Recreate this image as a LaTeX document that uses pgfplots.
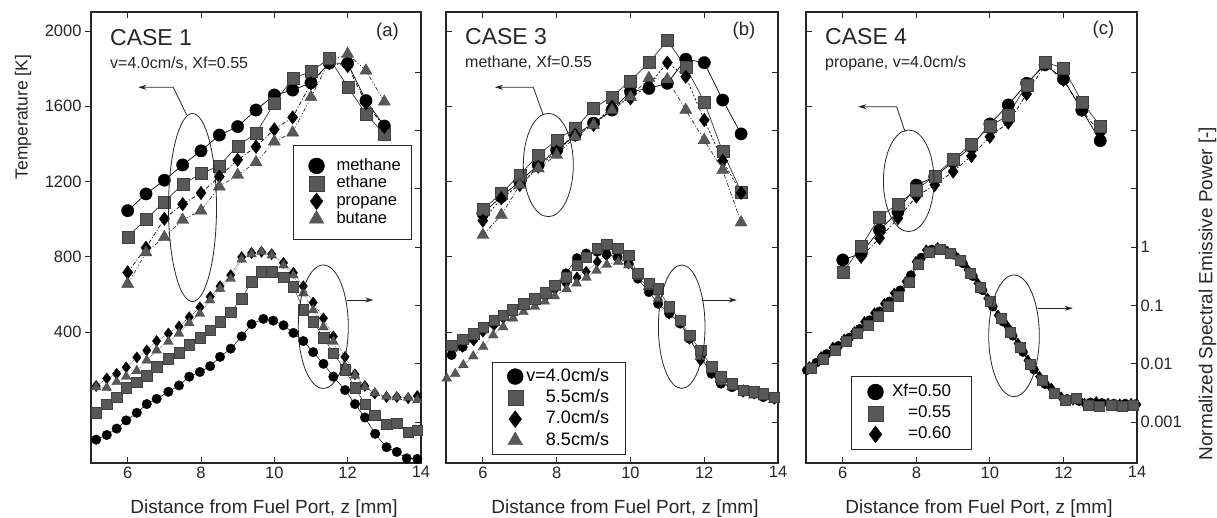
\documentclass[border=0pt]{standalone}
\usepackage{fontspec}
\setmainfont{Liberation Sans}
\usepackage{pgfplots}
\pgfplotsset{compat=1.18}
\usetikzlibrary{arrows.meta}
\definecolor{sqgray}{RGB}{88,88,88}

\pgfplotsset{
  base/.style={scale only axis, height=451pt, anchor=south west, xmin=5, xmax=14,
    axis line style={line width=1.1pt, black!85},
    every tick/.style={line width=0.9pt, black!85},
    major tick length=6pt,
    tick label style={font=\fontsize{16.5}{19}\selectfont, black!85},
    /pgf/number format/assume math mode=true,
    /pgf/number format/1000 sep={}},
  Tax/.style={base, ymin=-296, ymax=2101, xtick={6,8,10,12,14}, ytick={400,800,1200,1600,2000},
    ytick pos=left, xticklabel pos=lower, tick align=inside},
  Eax/.style={base, ymin=-3.70, ymax=4.03, axis y line*=right, axis x line=none,
    ytick={-3,-2,-1,0,1,2,3}, tick align=inside, yticklabels={}},
  pC/.style={black, mark=*, mark options={solid, fill=black, draw=black, line width=0.3pt}},
  pS/.style={black!80, mark=square*, mark options={solid, fill=sqgray, draw=black!75, line width=0.3pt}},
  pD/.style={black, mark=diamond*, mark options={solid, fill=black, draw=black, line width=0.3pt}},
  pT/.style={black!80, mark=triangle*, mark options={solid, fill=sqgray, draw=black!75, line width=0.3pt}},
  Tl/.style={line width=0.7pt},
  El/.style={line width=0.5pt},
  lgbase/.style={legend style={draw=black!85, line width=1pt, fill=white, row sep=0pt}},
}

\begin{document}
\begin{tikzpicture}[x=1pt,y=1pt]
\useasboundingbox (0,0) rectangle (1217,517);

% ================= Panel (a) =================
\begin{axis}[Tax, at={(91pt,54pt)}, width=330pt, ytick align=outside]
\addplot[pC, Tl, solid, mark size=6.2pt] coordinates {(6,1045)(6.5,1134)(7,1207)(7.5,1288)(8,1363)(8.5,1447)(9,1492)(9.5,1580)(10,1660)(10.5,1686)(11,1725)(11.5,1830)(12,1828)(12.5,1630)(13,1495)};
\addplot[pS, Tl, solid, mark size=6pt] coordinates {(6,907)(6.5,999)(7,1093)(7.5,1185)(8,1242)(8.5,1284)(9,1390)(9.5,1456)(10,1616)(10.5,1749)(11,1784)(11.5,1855)(12,1704)(12.5,1559)(13,1453)};
\addplot[pD, Tl, dash pattern=on 4pt off 2pt on 1pt off 2pt, mark size=6.8pt] coordinates {(6,717)(6.5,848)(7,1002)(7.5,1080)(8,1139)(8.5,1226)(9,1315)(9.5,1385)(10,1477)(10.5,1541)(11,1722)(11.5,1830)(12,1814)(12.5,1615)(13,1490)};
\addplot[pT, Tl, dash pattern=on 4pt off 2pt on 1pt off 2pt on 1pt off 2pt, mark size=7pt] coordinates {(6,656)(6.5,823)(7,904)(7.5,996)(8,1045)(8.5,1173)(9,1235)(9.5,1302)(10,1412)(10.5,1460)(11,1648)(11.5,1840)(12,1878)(12.5,1789)(13,1624)};
\end{axis}
\begin{axis}[Eax, at={(91pt,54pt)}, width=330pt, lgbase,
  legend image code/.code={\path[draw=none,fill=none] (0pt,-4pt) rectangle (32.5pt,4pt); \draw[#1, only marks] plot coordinates {(14pt,0pt)};},
  legend style={at={(0.972,0.705)}, anchor=north east, inner xsep=9pt, inner ysep=11.5pt,
    font=\fontsize{16.5}{19}\selectfont,
    nodes={inner sep=1.5pt, text height=11.5pt, text depth=3.2pt}}, legend cell align=left]
\addlegendimage{pC, mark size=8pt}
\addlegendentry{methane}
\addlegendimage{pS, mark size=7.5pt}
\addlegendentry{ethane}
\addlegendimage{pD, mark size=8.5pt}
\addlegendentry{propane}
\addlegendimage{pT, mark size=8.5pt}
\addlegendentry{butane}
\addplot[pC, El, solid, mark size=4.8pt, forget plot] coordinates {(5.14,-3.30)(5.43,-3.22)(5.70,-3.11)(5.96,-2.97)(6.25,-2.84)(6.52,-2.69)(6.79,-2.60)(7.11,-2.48)(7.40,-2.37)(7.68,-2.22)(7.97,-2.14)(8.25,-2.04)(8.52,-1.88)(8.81,-1.74)(9.11,-1.53)(9.38,-1.32)(9.70,-1.23)(9.97,-1.26)(10.25,-1.34)(10.52,-1.47)(10.79,-1.61)(11.06,-1.80)(11.34,-2.00)(11.61,-2.22)(11.93,-2.45)(12.20,-2.69)(12.47,-2.92)(12.75,-3.20)(13.06,-3.43)(13.34,-3.51)(13.61,-3.62)(13.9,-3.63)};
\addplot[pS, El, solid, mark size=5.2pt, forget plot] coordinates {(5.14,-2.84)(5.43,-2.69)(5.70,-2.57)(5.96,-2.41)(6.25,-2.31)(6.52,-2.20)(6.79,-2.05)(7.11,-1.91)(7.40,-1.81)(7.68,-1.67)(7.97,-1.55)(8.25,-1.42)(8.52,-1.28)(8.81,-1.11)(9.11,-0.88)(9.38,-0.59)(9.65,-0.42)(9.93,-0.42)(10.25,-0.51)(10.52,-0.68)(10.79,-1.07)(11.06,-1.28)(11.34,-1.55)(11.61,-1.82)(11.93,-2.10)(12.20,-2.41)(12.47,-2.69)(12.74,-2.88)(13.06,-3.03)(13.34,-3.02)(13.65,-3.17)(13.9,-3.14)};
\addplot[pD, El, densely dotted, mark size=5.6pt, forget plot] coordinates {(5.14,-2.38)(5.43,-2.25)(5.70,-2.17)(5.96,-2.06)(6.25,-1.89)(6.52,-1.77)(6.79,-1.61)(7.11,-1.48)(7.40,-1.36)(7.68,-1.20)(7.97,-1.03)(8.25,-0.85)(8.52,-0.67)(8.81,-0.48)(9.11,-0.17)(9.38,-0.10)(9.65,-0.08)(9.93,-0.12)(10.25,-0.27)(10.52,-0.44)(10.79,-0.67)(11.06,-0.95)(11.34,-1.22)(11.61,-1.53)(11.93,-1.88)(12.2,-2.18)(12.47,-2.38)(12.74,-2.51)(13.06,-2.57)(13.34,-2.57)(13.65,-2.59)(13.9,-2.55)};
\addplot[pT, El, densely dotted, mark size=5.6pt, forget plot] coordinates {(5.14,-2.40)(5.43,-2.41)(5.70,-2.31)(5.96,-2.22)(6.25,-2.12)(6.52,-1.94)(6.79,-1.77)(7.11,-1.62)(7.40,-1.48)(7.68,-1.30)(7.97,-1.14)(8.25,-0.91)(8.52,-0.71)(8.81,-0.54)(9.11,-0.21)(9.38,-0.12)(9.65,-0.08)(9.93,-0.14)(10.25,-0.31)(10.52,-0.48)(10.79,-0.79)(11.06,-1.08)(11.34,-1.37)(11.61,-1.62)(11.93,-2.05)(12.2,-2.20)(12.47,-2.40)(12.74,-2.50)(13.06,-2.56)(13.34,-2.57)(13.65,-2.58)(13.9,-2.62)};
\end{axis}

% ================= Panel (b) =================
\begin{axis}[Tax, at={(446pt,54pt)}, width=332pt, yticklabels={}]
\addplot[pC, Tl, solid, mark size=6.2pt] coordinates {(6,1031)(6.5,1120)(7,1200)(7.5,1288)(8,1368)(8.5,1448)(9,1510)(9.5,1580)(10,1678)(10.5,1695)(11,1722)(11.5,1850)(12,1832)(12.5,1633)(13,1453)};
\addplot[pS, Tl, solid, mark size=6pt] coordinates {(6,1052)(6.5,1137)(7,1235)(7.5,1341)(8,1421)(8.5,1483)(9,1589)(9.5,1651)(10,1736)(10.5,1832)(11,1949)(11.5,1810)(12,1624)(12.5,1359)(13,1146)};
\addplot[pD, Tl, dash pattern=on 2pt off 2pt, mark size=6.8pt] coordinates {(6,992)(6.5,1111)(7,1182)(7.5,1279)(8,1359)(8.5,1448)(9,1501)(9.5,1598)(10,1642)(10.5,1713)(11,1832)(11.5,1757)(12,1527)(12.5,1310)(13,1140)};
\addplot[pT, Tl, dash pattern=on 4pt off 2pt on 1pt off 2pt, mark size=7pt] coordinates {(6,916)(6.5,1022)(7,1182)(7.5,1270)(8,1341)(8.5,1438)(9,1501)(9.5,1580)(10,1650)(10.5,1749)(11,1743)(11.5,1580)(12,1420)(12.5,1261)(13,982)};
\end{axis}
\begin{axis}[Eax, at={(446pt,54pt)}, width=332pt, lgbase,
  legend image code/.code={\path[draw=none,fill=none] (0pt,-4pt) rectangle (18pt,4pt); \draw[#1, only marks] plot coordinates {(9pt,0pt)};},
  legend style={at={(0.1377,0.0177)}, anchor=south west, inner xsep=14pt, inner ysep=3.4pt,
    font=\fontsize{18}{21}\selectfont,
    nodes={inner sep=2.25pt, text height=13pt, text depth=3.8pt}}, legend cell align=right]
\addlegendimage{pC, mark size=8pt}
\addlegendentry{v=4.0cm/s}
\addlegendimage{pS, mark size=7.5pt}
\addlegendentry{5.5cm/s}
\addlegendimage{pD, mark size=8.5pt}
\addlegendentry{7.0cm/s}
\addlegendimage{pT, mark size=8.5pt}
\addlegendentry{8.5cm/s}
\addplot[pC, El, solid, mark size=4.8pt, forget plot] coordinates {(5.15,-1.85)(5.45,-1.71)(5.75,-1.57)(6.0,-1.42)(6.3,-1.31)(6.55,-1.20)(6.8,-1.09)(7.1,-1.01)(7.4,-0.91)(7.7,-0.79)(7.95,-0.65)(8.25,-0.45)(8.55,-0.19)(8.8,-0.11)(9.1,-0.08)(9.35,-0.12)(9.65,-0.17)(9.95,-0.28)(10.2,-0.54)(10.5,-0.77)(10.75,-0.97)(11.05,-1.14)(11.35,-1.31)(11.6,-1.57)(11.9,-1.88)(12.2,-2.17)(12.45,-2.34)(12.75,-2.40)(13.05,-2.48)(13.35,-2.51)(13.6,-2.57)(13.9,-2.60)};
\addplot[pD, El, densely dotted, mark size=5.6pt, forget plot] coordinates {(5.15,-1.77)(5.45,-1.71)(5.75,-1.60)(6.0,-1.45)(6.3,-1.34)(6.55,-1.22)(6.8,-1.11)(7.1,-1.02)(7.4,-0.94)(7.7,-0.85)(7.95,-0.73)(8.25,-0.62)(8.55,-0.52)(8.8,-0.42)(9.1,-0.25)(9.35,-0.14)(9.65,-0.19)(9.95,-0.28)(10.2,-0.51)(10.5,-0.71)(10.75,-0.91)(11.05,-1.14)(11.35,-1.28)(11.6,-1.57)(11.9,-1.94)(12.2,-2.11)(12.45,-2.25)(12.75,-2.37)(13.05,-2.48)(13.35,-2.51)(13.6,-2.54)(13.9,-2.60)};
\addplot[pT, El, densely dotted, mark size=5.6pt, forget plot] coordinates {(5.02,-2.25)(5.25,-2.17)(5.47,-2.02)(5.74,-1.87)(6.01,-1.71)(6.28,-1.51)(6.55,-1.37)(6.82,-1.22)(7.1,-1.11)(7.41,-1.02)(7.68,-0.93)(7.95,-0.84)(8.27,-0.72)(8.54,-0.62)(8.81,-0.52)(9.08,-0.40)(9.36,-0.30)(9.67,-0.25)(9.94,-0.31)(10.21,-0.51)(10.48,-0.68)(10.75,-0.88)(11.07,-1.08)(11.34,-1.28)(11.61,-1.54)(11.88,-1.88)(12.2,-2.08)(12.47,-2.31)(12.74,-2.40)(13.06,-2.45)(13.33,-2.54)(13.6,-2.57)(13.87,-2.62)};
\addplot[pS, El, solid, mark size=5.2pt, forget plot] coordinates {(5.15,-1.68)(5.45,-1.58)(5.75,-1.48)(6.0,-1.37)(6.3,-1.25)(6.55,-1.17)(6.8,-1.07)(7.1,-0.97)(7.4,-0.88)(7.7,-0.78)(7.95,-0.65)(8.25,-0.51)(8.55,-0.31)(8.8,-0.17)(9.1,-0.02)(9.35,0.05)(9.65,-0.02)(9.95,-0.14)(10.2,-0.45)(10.5,-0.62)(10.75,-0.71)(11.05,-1.02)(11.35,-1.25)(11.6,-1.51)(11.9,-1.77)(12.2,-2.05)(12.45,-2.22)(12.75,-2.34)(13.05,-2.45)(13.35,-2.48)(13.6,-2.51)(13.9,-2.57)};
\end{axis}

% ================= Panel (c) =================
\begin{axis}[Tax, at={(806pt,54pt)}, width=331pt, yticklabels={}]
\addplot[pC, Tl, solid, mark size=6.2pt] coordinates {(6,783)(6.5,818)(7,942)(7.5,1040)(8,1181)(8.5,1226)(9,1305)(9.5,1385)(10,1506)(10.5,1607)(11,1722)(11.5,1821)(12,1745)(12.5,1580)(13,1417)};
\addplot[pD, Tl, dash pattern=on 4pt off 2pt on 1pt off 2pt, mark size=6.8pt] coordinates {(6.5,800)(7,899)(7.5,1005)(8,1120)(8.5,1182)(9,1253)(9.5,1336)(10,1438)(10.5,1513)(11,1665)(11.5,1821)(12,1740)(12.5,1580)(13,1456)};
\addplot[pS, Tl, solid, mark size=6pt] coordinates {(6,716)(6.5,854)(7,1013)(7.5,1081)(8,1155)(8.5,1231)(9,1318)(9.5,1398)(10,1492)(10.5,1554)(11,1713)(11.5,1832)(12,1805)(12.5,1624)(13,1495)};
\end{axis}
\begin{axis}[Eax, at={(806pt,54pt)}, width=331pt, yticklabels={0.001,0.01,0.1,1,{},{},{}}, lgbase,
  legend image code/.code={\path[draw=none,fill=none] (0pt,-4pt) rectangle (30pt,4pt); \draw[#1, only marks] plot coordinates {(16pt,0pt)};},
  legend style={at={(0.136,0.0288)}, anchor=south west, inner xsep=8pt, inner ysep=4.5pt,
    font=\fontsize{17}{20}\selectfont,
    nodes={inner sep=2.5pt, text height=12.5pt, text depth=3.7pt}}, legend cell align=right]
\addlegendimage{pC, mark size=8pt}
\addlegendentry{Xf=0.50\hspace*{10pt}}
\addlegendimage{pS, mark size=7.5pt}
\addlegendentry{=0.55\hspace*{10pt}}
\addlegendimage{pD, mark size=8.5pt}
\addlegendentry{=0.60\hspace*{10pt}}
\addplot[pC, El, solid, mark size=4.6pt, forget plot] coordinates {(5.02,-2.11)(5.28,-1.98)(5.56,-1.83)(5.88,-1.69)(6.18,-1.55)(6.46,-1.40)(6.73,-1.25)(7.0,-1.10)(7.27,-0.93)(7.56,-0.74)(7.85,-0.48)(8.13,-0.18)(8.42,-0.04)(8.72,-0.03)(9.0,-0.13)(9.27,-0.28)(9.54,-0.50)(9.8,-0.74)(10.08,-1.02)(10.36,-1.28)(10.62,-1.52)(10.9,-1.80)(11.2,-2.10)(11.5,-2.35)(11.8,-2.52)(12.1,-2.60)(12.42,-2.64)(12.73,-2.66)(13.05,-2.67)(13.37,-2.68)(13.68,-2.68)(13.95,-2.69)};
\addplot[pD, El, densely dotted, mark size=5.4pt, forget plot] coordinates {(5.09,-2.05)(5.41,-1.88)(5.73,-1.72)(6.04,-1.58)(6.32,-1.45)(6.59,-1.28)(6.86,-1.13)(7.13,-0.97)(7.40,-0.79)(7.72,-0.59)(7.99,-0.25)(8.27,-0.05)(8.58,-0.01)(8.85,-0.08)(9.13,-0.19)(9.40,-0.39)(9.67,-0.62)(9.94,-0.88)(10.22,-1.17)(10.49,-1.37)(10.76,-1.65)(11.03,-1.94)(11.35,-2.22)(11.67,-2.42)(11.94,-2.57)(12.26,-2.62)(12.57,-2.68)(12.89,-2.65)(13.21,-2.68)(13.53,-2.69)(13.84,-2.68)(14.0,-2.70)};
\addplot[pS, El, solid, mark size=5pt, forget plot] coordinates {(5.15,-2.08)(5.47,-1.92)(5.8,-1.76)(6.1,-1.62)(6.4,-1.48)(6.68,-1.33)(6.95,-1.18)(7.22,-1.02)(7.5,-0.84)(7.8,-0.60)(8.05,-0.30)(8.35,-0.08)(8.65,-0.03)(8.93,-0.10)(9.2,-0.23)(9.47,-0.44)(9.73,-0.68)(10.0,-0.93)(10.3,-1.22)(10.56,-1.45)(10.83,-1.72)(11.1,-2.00)(11.42,-2.28)(11.75,-2.50)(12.05,-2.62)(12.35,-2.58)(12.66,-2.70)(12.98,-2.72)(13.3,-2.71)(13.6,-2.72)(13.9,-2.70)};
\end{axis}

% ================= Annotations =================
\begin{scope}[line width=0.8pt, black!85]
\draw (192.5,309.5) ellipse [x radius=24, y radius=94];
\draw[-{Stealth[length=8pt,width=5pt]}] (186.7,402) -- (173.3,429.7) -- (138.3,429.7);
\draw (323.3,190.3) ellipse [x radius=25, y radius=61.7];
\draw[-{Stealth[length=8pt,width=5pt]}] (346.7,217) -- (373.3,217);

\draw (548.3,352) ellipse [x radius=25, y radius=51.7];
\draw[-{Stealth[length=8pt,width=5pt]}] (543.3,402) -- (533.3,429.7) -- (495,429.7);
\draw (681.7,190.3) ellipse [x radius=23.3, y radius=61.7];
\draw[-{Stealth[length=8pt,width=5pt]}] (701.7,217) -- (736.7,217);

\draw (908.7,336.2) ellipse [x radius=25.3, y radius=50.8];
\draw[-{Stealth[length=8pt,width=5pt]}] (905,385.3) -- (896.7,410.3) -- (858.3,410.3);
\draw (1014,181.2) ellipse [x radius=25.3, y radius=60.8];
\draw[-{Stealth[length=8pt,width=5pt]}] (1037.7,208.7) -- (1072.7,208.7);
\end{scope}

% ================= Texts =================
\begin{scope}[black!85, inner sep=0pt]
\node[anchor=base west, font=\fontsize{23}{26}\selectfont] at (110,471) {CASE 1};
\node[anchor=base west, font=\fontsize{16}{19}\selectfont] at (110,448) {v=4.0cm/s, Xf=0.55};
\node[anchor=base, font=\fontsize{18.5}{21}\selectfont] at (387.5,480) {(a)};

\node[anchor=base west, font=\fontsize{23}{26}\selectfont] at (465,472) {CASE 3};
\node[anchor=base west, font=\fontsize{16}{19}\selectfont] at (465,449) {methane, Xf=0.55};
\node[anchor=base, font=\fontsize{18.5}{21}\selectfont] at (744,481) {(b)};

\node[anchor=base west, font=\fontsize{23}{26}\selectfont] at (825,472) {CASE 4};
\node[anchor=base west, font=\fontsize{16}{19}\selectfont] at (825,449) {propane, v=4.0cm/s};
\node[anchor=base, font=\fontsize{18.5}{21}\selectfont] at (1103.5,482) {(c)};

\node[anchor=base, font=\fontsize{19}{22}\selectfont] at (264,4) {Distance from Fuel Port, z [mm]};
\node[anchor=base, font=\fontsize{19}{22}\selectfont] at (625,4) {Distance from Fuel Port, z [mm]};
\node[anchor=base, font=\fontsize{19}{22}\selectfont] at (979,4) {Distance from Fuel Port, z [mm]};

\node[rotate=90, font=\fontsize{17.5}{20}\selectfont] at (23,400) {Temperature [K]};
\node[rotate=90, font=\fontsize{19}{22}\selectfont] at (1207.5,223.5) {Normalized Spectral Emissive Power [-]};
\end{scope}
\end{tikzpicture}
\end{document}
